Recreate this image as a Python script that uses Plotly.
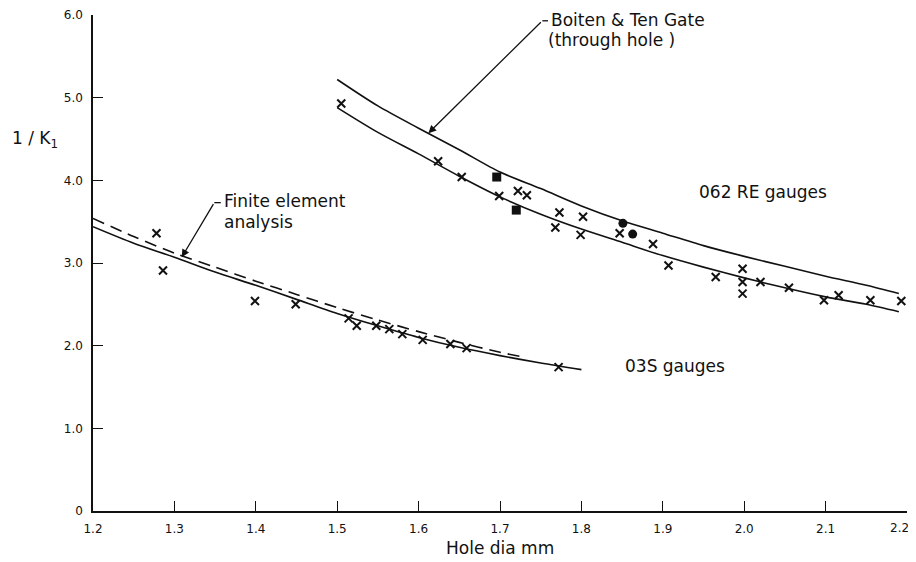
import plotly.graph_objects as go

# Boiten & Ten Gate (through hole) curves
bt_x = [1.50, 1.55, 1.60, 1.65, 1.70, 1.75, 1.80, 1.85, 1.90, 1.95, 2.00, 2.05, 2.10, 2.15, 2.19]
bt_upper_y = [5.22, 4.90, 4.63, 4.37, 4.10, 3.90, 3.69, 3.51, 3.36, 3.21, 3.08, 2.96, 2.84, 2.73, 2.63]
bt_lower_y = [4.88, 4.58, 4.32, 4.05, 3.80, 3.59, 3.41, 3.25, 3.09, 2.95, 2.82, 2.70, 2.59, 2.50, 2.41]

# Finite element analysis (dashed)
fe_x = [1.20, 1.25, 1.30, 1.35, 1.40, 1.45, 1.50, 1.55, 1.60, 1.65, 1.70, 1.73]
fe_y = [3.54, 3.32, 3.12, 2.95, 2.78, 2.62, 2.46, 2.31, 2.17, 2.04, 1.92, 1.86]

# 03S gauges fitted curve (solid)
s03_x = [1.20, 1.25, 1.30, 1.35, 1.40, 1.45, 1.50, 1.55, 1.60, 1.65, 1.70, 1.75, 1.80]
s03_y = [3.44, 3.24, 3.07, 2.89, 2.73, 2.56, 2.39, 2.24, 2.10, 1.98, 1.88, 1.79, 1.71]

# 062 RE gauges measurements
re_x = [1.505, 1.624, 1.653, 1.699, 1.722, 1.733, 1.768, 1.773, 1.799, 1.802, 1.847,
        1.888, 1.907, 1.965, 1.998, 1.998, 1.998, 2.020, 2.055, 2.098, 2.116, 2.155, 2.193]
re_y = [4.93, 4.23, 4.04, 3.81, 3.87, 3.82, 3.43, 3.61, 3.34, 3.56, 3.36,
        3.23, 2.97, 2.83, 2.93, 2.77, 2.63, 2.77, 2.70, 2.55, 2.61, 2.55, 2.54]
sq_x = [1.696, 1.720]
sq_y = [4.04, 3.64]
ci_x = [1.851, 1.863]
ci_y = [3.48, 3.35]

# 03S gauges measurements
g03_x = [1.278, 1.286, 1.399, 1.449, 1.514, 1.524, 1.548, 1.564, 1.580, 1.605, 1.639, 1.659, 1.772]
g03_y = [3.36, 2.91, 2.54, 2.50, 2.33, 2.24, 2.24, 2.20, 2.14, 2.07, 2.02, 1.97, 1.74]

x_ticks = [1.2, 1.3, 1.4, 1.5, 1.6, 1.7, 1.8, 1.9, 2.0, 2.1, 2.2]
x_tick_labels = ["1.2", "1.3", "1.4", "1.5", "1.6", "1.7", "1.8", "1.9", "2.0", "2.1", "2.2"]
y_ticks = [0, 1, 2, 3, 4, 5, 6]
y_tick_labels = ["0", "1.0", "2.0", "3.0", "4.0", "5.0", "6.0"]

FONT = "DejaVu Sans"
INK = "#111111"

fig = go.Figure()
line_style = dict(color=INK, width=1.6, shape="spline", smoothing=0.8)
fig.add_trace(go.Scatter(x=bt_x, y=bt_upper_y, mode="lines", line=line_style, showlegend=False))
fig.add_trace(go.Scatter(x=bt_x, y=bt_lower_y, mode="lines", line=line_style, showlegend=False))
fig.add_trace(go.Scatter(x=s03_x, y=s03_y, mode="lines", line=line_style, showlegend=False))
fig.add_trace(go.Scatter(x=fe_x, y=fe_y, mode="lines",
                         line=dict(color=INK, width=1.6, dash="12px,7px", shape="spline", smoothing=0.8),
                         showlegend=False))

xmark = dict(symbol="x-thin", size=8, line=dict(color=INK, width=2), color=INK)
fig.add_trace(go.Scatter(x=re_x, y=re_y, mode="markers", marker=xmark, showlegend=False))
fig.add_trace(go.Scatter(x=g03_x, y=g03_y, mode="markers", marker=xmark, showlegend=False))
fig.add_trace(go.Scatter(x=sq_x, y=sq_y, mode="markers",
                         marker=dict(symbol="square", size=9, color=INK), showlegend=False))
fig.add_trace(go.Scatter(x=ci_x, y=ci_y, mode="markers",
                         marker=dict(symbol="circle", size=9, color=INK), showlegend=False))

txt = dict(family=FONT, size=17, color=INK)
tick_font = dict(family=FONT, size=12, color=INK)
ann = []
# arrows
ann.append(dict(x=1.612, y=4.57, ax=1.752, ay=5.93, xref="x", yref="y", axref="x", ayref="y",
                text="", showarrow=True, arrowhead=2, arrowsize=1.2, arrowwidth=1.3, arrowcolor=INK))
ann.append(dict(x=1.309, y=3.07, ax=1.349, ay=3.73, xref="x", yref="y", axref="x", ayref="y",
                text="", showarrow=True, arrowhead=2, arrowsize=1.2, arrowwidth=1.3, arrowcolor=INK))
ann.append(dict(x=1.760, y=5.94, xref="x", yref="y", text="Boiten &amp; Ten Gate",
                xanchor="left", yanchor="middle", showarrow=False, font=txt))
ann.append(dict(x=1.757, y=5.70, xref="x", yref="y", text="(through hole )",
                xanchor="left", yanchor="middle", showarrow=False, font=txt))
ann.append(dict(x=1.358, y=3.75, xref="x", yref="y", text="Finite element",
                xanchor="left", yanchor="middle", showarrow=False, font=txt))
ann.append(dict(x=1.358, y=3.50, xref="x", yref="y", text="analysis",
                xanchor="left", yanchor="middle", showarrow=False, font=txt))
ann.append(dict(x=1.942, y=3.86, xref="x", yref="y", text="062 RE gauges",
                xanchor="left", yanchor="middle", showarrow=False, font=txt))
ann.append(dict(x=1.851, y=1.76, xref="x", yref="y", text="03S gauges",
                xanchor="left", yanchor="middle", showarrow=False, font=txt))
ann.append(dict(x=-0.102, y=4.5, xref="paper", yref="y", text="1 / K<sub>1</sub>",
                xanchor="left", yanchor="middle", showarrow=False, font=txt))
ann.append(dict(x=0.5, y=-0.074, xref="paper", yref="paper", text="Hole dia mm",
                xanchor="center", yanchor="middle", showarrow=False, font=txt))
# last x tick label, kept inside the window
ann.append(dict(x=x_ticks[-1], y=-0.035, xref="x", yref="paper", text=x_tick_labels[-1],
                xanchor="right", yanchor="middle", xshift=4, showarrow=False, font=tick_font))

shapes = [
    dict(type="line", xref="x", yref="y", x0=1.349, y0=3.73, x1=1.357, y1=3.73,
         line=dict(color=INK, width=1.3)),
    dict(type="line", xref="x", yref="y", x0=1.752, y0=5.93, x1=1.759, y1=5.93,
         line=dict(color=INK, width=1.3)),
]

axis_common = dict(showgrid=False, zeroline=False, showline=True, linecolor=INK, linewidth=1.5,
                   ticks="inside", ticklen=10, tickwidth=1.3, tickcolor=INK, automargin=False,
                   tickfont=tick_font, mirror=False)

# the page body adds an 8px offset at top-left, so the figure is 8px smaller
fig.update_layout(
    width=908, height=554,
    margin=dict(l=85, r=9, t=7, b=51, autoexpand=False),
    plot_bgcolor="white", paper_bgcolor="white",
    xaxis=dict(range=[1.2, 2.2], tickvals=x_ticks, ticktext=x_tick_labels[:-1] + [""],
               ticklabelstandoff=6, **axis_common),
    yaxis=dict(range=[0, 6], tickvals=y_ticks, ticktext=y_tick_labels,
               ticklabelstandoff=6, **axis_common),
    annotations=ann, shapes=shapes,
)

fig.write_html("out.html")
